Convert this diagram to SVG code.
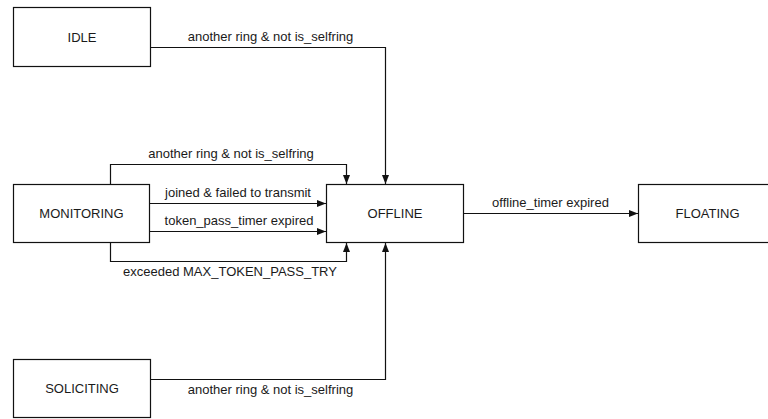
<svg xmlns="http://www.w3.org/2000/svg" width="768" height="419" viewBox="0 0 768 419">
  <style>
    .state rect { fill: #ffffff; stroke: #111111; stroke-width: 1.2; }
    .state text { font-family: "Liberation Sans", Arial, sans-serif; font-size: 13px; fill: #1a1a1a; text-anchor: middle; }
    .edge { fill: none; stroke: #111111; stroke-width: 1.2; marker-end: url(#arrow); }
    .label { font-family: "Liberation Sans", Arial, sans-serif; font-size: 13px; fill: #1a1a1a; text-anchor: middle; }
  </style>
  <defs>
    <marker id="arrow" markerUnits="userSpaceOnUse" markerWidth="10" markerHeight="8" refX="9" refY="4" orient="auto">
      <path d="M0,0.5 L9,4 L0,7.5 z" fill="#111111"/>
    </marker>
  </defs>
  <rect width="768" height="419" fill="#ffffff"/>

  <!-- transitions -->
  <g id="connectors">
    <path class="edge" d="M150.5,47.5 H385.5 V184"/>
    <path class="edge" d="M110.5,184.5 V164.5 H346.5 V184"/>
    <path class="edge" d="M149.5,203.5 H326"/>
    <path class="edge" d="M149.5,231.5 H326"/>
    <path class="edge" d="M110.5,242.5 V261.5 H346.5 V243"/>
    <path class="edge" d="M150.5,379.5 H385.5 V243"/>
    <path class="edge" d="M463.5,213.5 H638"/>
    <text class="label" x="270.5" y="41">another ring &amp; not is_selfring</text>
    <text class="label" x="231" y="158">another ring &amp; not is_selfring</text>
    <text class="label" x="238" y="197">joined &amp; failed to transmit</text>
    <text class="label" x="239" y="224.5">token_pass_timer expired</text>
    <text class="label" x="230" y="276">exceeded MAX_TOKEN_PASS_TRY</text>
    <text class="label" x="550.5" y="206.5">offline_timer expired</text>
    <text class="label" x="270.5" y="394">another ring &amp; not is_selfring</text>
  </g>

  <!-- states -->
  <g id="idle" class="state">
    <rect x="13.5" y="7.5" width="137" height="59"/>
    <text x="82" y="41.5">IDLE</text>
  </g>
  <g id="monitoring" class="state">
    <rect x="13.5" y="184.5" width="136" height="58"/>
    <text x="81.5" y="217.5">MONITORING</text>
  </g>
  <g id="offline" class="state">
    <rect x="326.5" y="184.5" width="137" height="58"/>
    <text x="395" y="217.5">OFFLINE</text>
  </g>
  <g id="floating" class="state">
    <rect x="638.5" y="184.5" width="138" height="58"/>
    <text x="707.5" y="217.5">FLOATING</text>
  </g>
  <g id="soliciting" class="state">
    <rect x="13.5" y="359.5" width="137" height="58"/>
    <text x="82" y="393">SOLICITING</text>
  </g>
</svg>
